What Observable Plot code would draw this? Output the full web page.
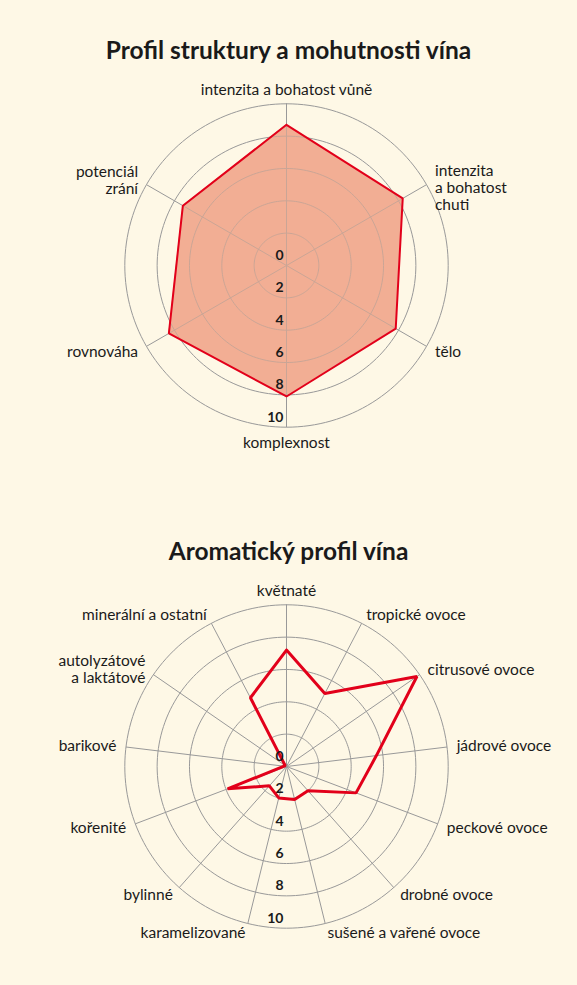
<!DOCTYPE html>
<html>
<head>
<meta charset="utf-8">
<script src="https://cdn.jsdelivr.net/npm/d3@7"></script>
<script src="https://cdn.jsdelivr.net/npm/@observablehq/plot@0.6"></script>
<style>
  html, body { margin: 0; padding: 0; background: #fef8e6; }
  body { width: 577px; height: 985px; position: relative; overflow: hidden; font-family: Lato, "Open Sans", sans-serif; }
  .title { position: absolute; left: 0; width: 577px; text-align: center; font-weight: 700; font-size: 24.5px; line-height: 36px; color: #1a1a1a; font-family: Lato, "Open Sans", sans-serif; }
  .chart { position: absolute; left: 0; }
</style>
</head>
<body>
<div class="title" id="t1" style="top:32px">Profil struktury a mohutnosti vína</div>
<div class="chart" id="c1" style="top:70px"></div>
<div class="title" id="t2" style="top:533px">Aromatický profil vína</div>
<div class="chart" id="c2" style="top:570px"></div>
<script>
// ---- Data ----
const structureAxes = ["intenzita a bohatost vůně", "intenzita\na bohatost\nchuti", "tělo", "komplexnost", "rovnováha", "potenciál\nzrání"];
const structureValues = [8.7, 8.3, 7.8, 8.1, 8.4, 7.4];

const aromaAxes = ["květnaté", "tropické ovoce", "citrusové ovoce", "jádrové ovoce", "peckové ovoce", "drobné ovoce", "sušené a vařené ovoce", "karamelizované", "bylinné", "kořenité", "barikové", "autolyzátové\na laktátové", "minerální a ostatní"];
const aromaValues = [7.2, 5.1, 9.8, 5.6, 4.6, 2.0, 2.1, 2.0, 1.6, 3.9, 0.15, 0.1, 4.8];

const ringValues = [2, 4, 6, 8, 10];
const tickLabels = ["0", "2", "4", "6", "8", "10"];

// ---- Helpers ----
const W = 577, H = 400, K = 16.17; // px per unit
const FS = 15.5;
function radar(container, axes, values, opts) {
  const n = axes.length;
  const cx = 286, cy = opts.cy;
  const ang = i => (i / n) * 2 * Math.PI;
  const px = (i, r) => r * Math.sin(ang(i));
  const py = (i, r) => r * Math.cos(ang(i));

  const pts = values.map((v, i) => ({x: px(i, v), y: py(i, v)}));
  const closed = [...pts, pts[0]];

  const rings = ringValues.flatMap(rv => d3.range(0, 361, 2).map(a => ({ring: rv, x: rv * Math.sin(a * Math.PI / 180), y: rv * Math.cos(a * Math.PI / 180)})));
  const spokes = axes.map((a, i) => ({x1: 0, y1: 0, x2: px(i, 10), y2: py(i, 10)}));

  const LR = 10.6;
  const labels = axes.map((a, i) => {
    const s = Math.sin(ang(i));
    const c = Math.cos(ang(i));
    const lines = a.split("\n").length;
    return {text: a, x: px(i, LR), y: py(i, LR), anchor: Math.abs(s) < 0.05 ? "middle" : (s > 0 ? "start" : "end"), c, lines};
  });

  const ticks = tickLabels.map(t => ({t, v: +t}));
  const textOpts = {x: "x", y: "y", text: "text", fontSize: FS, fill: "#1a1a1a", lineHeight: 1.12};

  const marks = [];
  if (opts.fill) marks.push(Plot.area(closed, {x1: "x", y1: "y", x2: 0, y2: 0, fill: opts.fill}));
  marks.push(Plot.line(rings, {x: "x", y: "y", z: "ring", stroke: "#999", strokeWidth: 1}));
  marks.push(Plot.link(spokes, {x1: "x1", y1: "y1", x2: "x2", y2: "y2", stroke: "#999", strokeWidth: 1}));
  if (opts.fill) marks.push(Plot.area(closed, {x1: "x", y1: "y", x2: 0, y2: 0, fill: opts.fill, fillOpacity: 0.55}));
  marks.push(Plot.line(closed, {x: "x", y: "y", stroke: "#e2001a", strokeWidth: opts.sw, strokeLinejoin: "miter"}));
  for (const anchor of ["start", "end"]) {
    const sub = labels.filter(d => d.anchor === anchor);
    marks.push(Plot.text(sub.filter(d => d.lines < 3), {...textOpts, textAnchor: anchor, lineAnchor: "middle"}));
    marks.push(Plot.text(sub.filter(d => d.lines >= 3), {...textOpts, textAnchor: anchor, lineAnchor: "top", dy: -16.5}));
  }
  const mid = labels.filter(d => d.anchor === "middle");
  marks.push(Plot.text(mid.filter(d => d.c > 0), {...textOpts, textAnchor: "middle", lineAnchor: "bottom", dy: 1}));
  marks.push(Plot.text(mid.filter(d => d.c <= 0), {...textOpts, textAnchor: "middle", lineAnchor: "top", dy: -1}));
  marks.push(Plot.text(ticks, {x: 0, y: d => -d.v, text: "t", textAnchor: "end", dx: -3, dy: -10, fontSize: 14, fontWeight: 700, fill: "#1a1a1a"}));

  const svg = Plot.plot({
    width: W, height: H,
    margin: 0,
    x: {type: "linear", domain: [-cx / K, (W - cx) / K], range: [0, W], axis: null},
    y: {type: "linear", domain: [-(H - cy) / K, cy / K], range: [H, 0], axis: null},
    style: {background: "transparent", fontFamily: "Lato, 'Open Sans', sans-serif", overflow: "visible"},
    marks
  });
  document.getElementById(container).appendChild(svg);
}

radar("c1", structureAxes, structureValues, {cy: 195, fill: "#f2ae94", sw: 2});
radar("c2", aromaAxes, aromaValues, {cy: 196, fill: null, sw: 3});
</script>
</body>
</html>
